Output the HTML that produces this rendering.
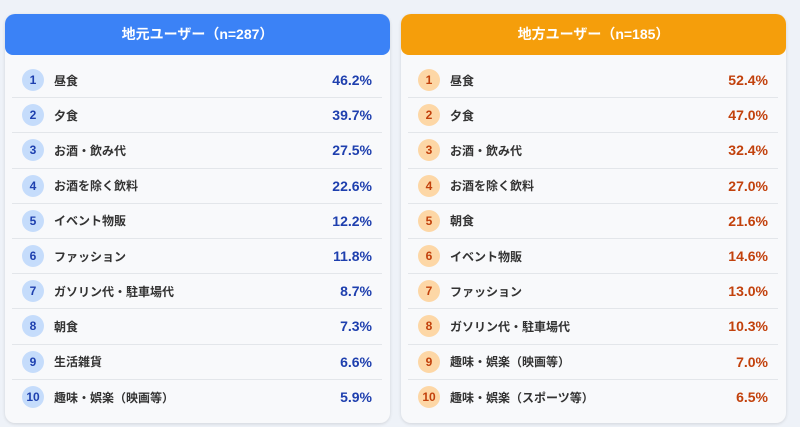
<!DOCTYPE html>
<html><head><meta charset="utf-8"><style>
*{margin:0;padding:0;box-sizing:border-box}
body{width:800px;height:427px;background:#eef2f8;font-family:"Liberation Sans","Noto Sans CJK JP",sans-serif;position:relative;overflow:hidden}
.card{position:absolute;top:14px;width:385px;height:409px;background:#f8f9fb;border-radius:10px;box-shadow:0 1px 3px rgba(0,0,0,.12)}
.hd{height:41px;border-radius:10px 10px 8px 8px;color:#fff;font-weight:bold;font-size:14px;text-align:center;line-height:41px}
.rows{padding:8px 8px 0 7px}
.row{height:35.2px;display:flex;align-items:center;border-bottom:1px solid #e3e6ea;position:relative}
.row:last-child{border-bottom:none}
.n{width:22px;height:22px;border-radius:50%;font-size:12px;font-weight:bold;text-align:center;line-height:22px;margin-left:10px;margin-right:10px}
.l{font-size:12px;font-weight:bold;color:#333;flex:1}
.p{font-size:14px;font-weight:bold;margin-right:10px}
.b .hd{background:#3b82f6}.b .n{background:#c5dcfb;color:#1e40af}.b .p{color:#1e3fae}
.o .hd{background:#f59e0b}.o .n{background:#fdd7a6;color:#c2410c}.o .p{color:#c2410c}
</style></head><body>
<div class="card b" style="left:5px">
<div class="hd">地元ユーザー（n=287）</div>
<div class="rows">
<div class="row"><span class="n">1</span><span class="l">昼食</span><span class="p">46.2%</span></div>
<div class="row"><span class="n">2</span><span class="l">夕食</span><span class="p">39.7%</span></div>
<div class="row"><span class="n">3</span><span class="l">お酒・飲み代</span><span class="p">27.5%</span></div>
<div class="row"><span class="n">4</span><span class="l">お酒を除く飲料</span><span class="p">22.6%</span></div>
<div class="row"><span class="n">5</span><span class="l">イベント物販</span><span class="p">12.2%</span></div>
<div class="row"><span class="n">6</span><span class="l">ファッション</span><span class="p">11.8%</span></div>
<div class="row"><span class="n">7</span><span class="l">ガソリン代・駐車場代</span><span class="p">8.7%</span></div>
<div class="row"><span class="n">8</span><span class="l">朝食</span><span class="p">7.3%</span></div>
<div class="row"><span class="n">9</span><span class="l">生活雑貨</span><span class="p">6.6%</span></div>
<div class="row"><span class="n">10</span><span class="l">趣味・娯楽（映画等）</span><span class="p">5.9%</span></div>
</div></div>
<div class="card o" style="left:401px">
<div class="hd">地方ユーザー（n=185）</div>
<div class="rows">
<div class="row"><span class="n">1</span><span class="l">昼食</span><span class="p">52.4%</span></div>
<div class="row"><span class="n">2</span><span class="l">夕食</span><span class="p">47.0%</span></div>
<div class="row"><span class="n">3</span><span class="l">お酒・飲み代</span><span class="p">32.4%</span></div>
<div class="row"><span class="n">4</span><span class="l">お酒を除く飲料</span><span class="p">27.0%</span></div>
<div class="row"><span class="n">5</span><span class="l">朝食</span><span class="p">21.6%</span></div>
<div class="row"><span class="n">6</span><span class="l">イベント物販</span><span class="p">14.6%</span></div>
<div class="row"><span class="n">7</span><span class="l">ファッション</span><span class="p">13.0%</span></div>
<div class="row"><span class="n">8</span><span class="l">ガソリン代・駐車場代</span><span class="p">10.3%</span></div>
<div class="row"><span class="n">9</span><span class="l">趣味・娯楽（映画等）</span><span class="p">7.0%</span></div>
<div class="row"><span class="n">10</span><span class="l">趣味・娯楽（スポーツ等）</span><span class="p">6.5%</span></div>
</div></div>
</body></html>
